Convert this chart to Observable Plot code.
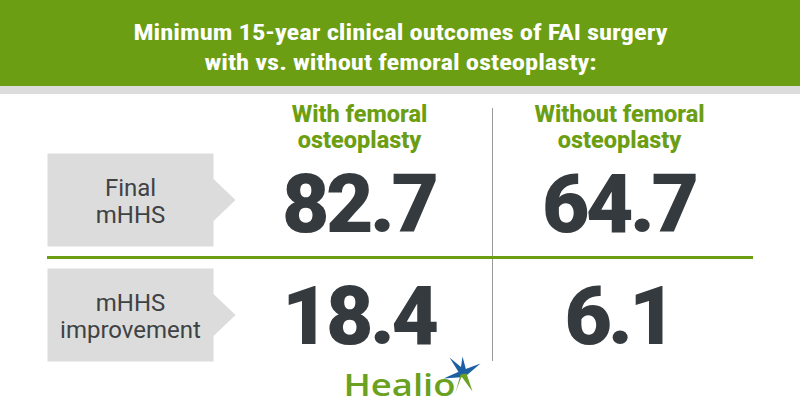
<!DOCTYPE html>
<html>
<head>
<meta charset="utf-8">
<script src="https://cdn.jsdelivr.net/npm/d3@7"></script>
<script src="https://cdn.jsdelivr.net/npm/@observablehq/plot@0.6"></script>
<style>
  html, body { margin: 0; padding: 0; background: #fff; }
  #chart svg { display: block; }
</style>
</head>
<body>
<div id="chart"></div>
<script>
// ---- data ----
const titleLines = ["Minimum 15-year clinical outcomes of FAI surgery", "with vs. without femoral osteoplasty:"];
const groups = ["With femoral\nosteoplasty", "Without femoral\nosteoplasty"];
const measures = ["Final\nmHHS", "mHHS\nimprovement"];
const withValues = [82.7, 18.4];
const withoutValues = [64.7, 6.1];
const brand = "Healio";

// ---- layout (pixel positions, not data) ----
const W = 800, H = 420;
const groupX = [360, 620];
const rowBox = [[153, 246], [268, 361]];
const boxX = [47, 213], tipX = 235;
const numBaseline = [231, 343];

const cells = [];
measures.forEach((m, i) => {
  cells.push({measure: m, group: groups[0], x: groupX[0], y: numBaseline[i], value: withValues[i]});
  cells.push({measure: m, group: groups[1], x: groupX[1], y: numBaseline[i], value: withoutValues[i]});
});

const boxPts = [];
rowBox.forEach(([t, b], i) => {
  const mid = (t + b) / 2;
  [[boxX[0], t], [boxX[1], t], [boxX[1], mid - 21], [tipX, mid], [boxX[1], mid + 21], [boxX[1], b], [boxX[0], b]]
    .forEach(([x, y]) => boxPts.push({x, y, k: i}));
});

const labels = measures.map((m, i) => ({text: m, x: 130, y: (rowBox[i][0] + rowBox[i][1]) / 2 + 1}));
const heads = groups.map((g, i) => ({text: g, x: groupX[i] - 1, y: 147}));

// logo star (decoration)
const c = [463, 373];
const spikes = [[449, 357], [462, 356], [480, 363], [443, 378]];
const starPts = [];
spikes.forEach(([sx, sy], k) => {
  const dx = sx - c[0], dy = sy - c[1], L = Math.hypot(dx, dy);
  const nx = -dy / L * 3.5, ny = dx / L * 3.5;
  [[c[0] + nx, c[1] + ny], [sx, sy], [c[0] - nx, c[1] - ny]].forEach(([x, y]) => starPts.push({x, y, k}));
});
const greenPts = [
  {x: c[0] + 3, y: c[1]}, {x: 472, y: 391}, {x: c[0] - 2, y: c[1] + 3},
  {x: 455, y: 392}, {x: c[0] - 3, y: c[1] + 1}
];

const green = "#6b9e12";

const chart = Plot.plot({
  width: W, height: H,
  margin: 0,
  x: {domain: [0, W], range: [0, W], axis: null},
  y: {domain: [0, H], range: [0, H], axis: null},
  style: {background: "#fff"},
  marks: [
    // header band
    Plot.rectY([{}], {x1: 0, x2: W, y1: 0, y2: 86, fill: green}),
    Plot.rectY([{}], {x1: 0, x2: W, y1: 86, y2: 94, fill: "#dcdcdc"}),
    Plot.text(titleLines, {
      x: W / 2, y: (d, i) => 39 + i * 30, text: d => d,
      fill: "#fff", fontSize: 22, fontWeight: "bold",
      fontFamily: "'Roboto Condensed', Roboto, sans-serif",
      textAnchor: "middle", lineAnchor: "bottom"
    }),
    // dividers
    Plot.ruleX([492], {y1: 108, y2: 361, stroke: "#999", strokeWidth: 1}),
    Plot.ruleY([257], {x1: 47, x2: 753, stroke: green, strokeWidth: 3}),
    // row label boxes
    Plot.line(boxPts, {x: "x", y: "y", z: "k", fill: "#dcdcdc", stroke: null, curve: "linear-closed"}),
    Plot.text(labels, {
      x: "x", y: "y", text: "text", fill: "#3f4245", fontSize: 24,
      fontFamily: "Roboto, sans-serif", lineHeight: 1.12, lineAnchor: "middle"
    }),
    // group headers
    Plot.text(heads, {
      x: "x", y: "y", text: "text", fill: green, fontSize: 23.5, fontWeight: 800,
      fontFamily: "Roboto, sans-serif", lineHeight: 1.1, lineAnchor: "bottom"
    }),
    // values
    Plot.text(cells, {
      x: "x", y: "y", text: d => d.value.toFixed(1), fill: "#343a3e",
      fontSize: 82, fontWeight: 900, fontFamily: "Roboto, sans-serif", lineAnchor: "bottom"
    }),
    // logo
    Plot.text([brand], {
      x: 343, y: 395, text: d => d, fill: "#6aa121", fontSize: 31,
      fontFamily: "'Open Sans', Roboto, sans-serif", fontWeight: 600,
      textAnchor: "start", lineAnchor: "bottom"
    }),
    Plot.line(starPts, {x: "x", y: "y", z: "k", fill: "#1d5fa3", stroke: null, curve: "linear-closed"}),
    Plot.line(greenPts, {x: "x", y: "y", fill: "#6aa121", stroke: null, curve: "linear-closed"})
  ]
});
document.getElementById("chart").appendChild(chart);

// fine typography adjustments
const svg = d3.select(chart);
const valueStrings = cells.map(d => d.value.toFixed(1));
let ratio = null;
svg.selectAll("text").each(function () {
  if (this.textContent === titleLines[0]) ratio = 534 / this.getComputedTextLength();
});
svg.selectAll("text").each(function () {
  const t = this.textContent;
  if (titleLines.includes(t) && ratio) {
    const n = this.getComputedTextLength();
    this.setAttribute("textLength", (n * ratio).toFixed(1));
    this.setAttribute("lengthAdjust", "spacingAndGlyphs");
  } else if (valueStrings.includes(t)) {
    const n = this.getComputedTextLength();
    this.setAttribute("textLength", (n - 2.6 * t.length).toFixed(1));
    this.setAttribute("lengthAdjust", "spacing");
  } else if (t === brand) {
    this.setAttribute("textLength", "112");
    this.setAttribute("lengthAdjust", "spacingAndGlyphs");
  }
});
</script>
</body>
</html>
